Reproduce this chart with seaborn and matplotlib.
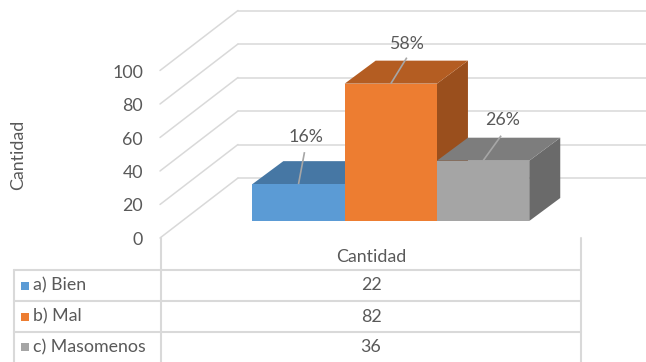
import matplotlib
matplotlib.use("Agg")
import matplotlib.pyplot as plt
import matplotlib.transforms as mtransforms
from matplotlib.patches import Polygon, Rectangle
import seaborn as sns
import pandas as pd

# ---- data ----
categories = ["a) Bien", "b) Mal", "c) Masomenos"]
values = [22, 82, 36]
pct_labels = ["16%", "58%", "26%"]
series_name = "Cantidad"
y_ticks = [0, 20, 40, 60, 80, 100]

front_colors = ["#5B9BD5", "#ED7D31", "#A5A5A5"]
top_colors = ["#4677A4", "#B45D22", "#7D7D7D"]
side_colors = ["#3E6A93", "#9A4F1D", "#6A6A6A"]

sns.set_theme(style="white")
plt.rcParams["font.family"] = ["Lato", "DejaVu Sans"]
TXT = "#595959"
GRID = "#D9D9D9"
FS = 12.8

W, H = 646, 362
fig = plt.figure(figsize=(W / 100, H / 100), dpi=100)
fig.patch.set_facecolor("white")
# pixel transform (origin top-left)
pix = mtransforms.Affine2D().scale(1 / W, -1 / H).translate(0, 1) + fig.transFigure

# geometry (pixels)
S = 1.675            # px per unit
BAR_W = 92.3         # px per category
BAR_X0 = 298.5       # px centre of first bar
BASE = 221           # px row of bar baseline
FRONT = (160, 238)   # front-left floor corner
DEPTH = (78, -60)    # floor depth vector
BAR_D = (31, -23)    # bar depth vector

ax = fig.add_axes([0, 0, 1, 1])
df = pd.DataFrame({"cat": categories, "val": values})
sns.barplot(data=df, x="cat", y="val", hue="cat", palette=front_colors,
            width=1.0, ax=ax, legend=False, saturation=1, edgecolor="none",
            zorder=5)
ax.set_xlim(-BAR_X0 / BAR_W, (W - BAR_X0) / BAR_W)
ax.set_ylim((BASE - H) / S, BASE / S)
ax.axis("off")

# gridlines: left wall diagonals + back wall horizontals
for v in y_ticks:
    fy = FRONT[1] - S * v
    bx, by = FRONT[0] + DEPTH[0], fy + DEPTH[1]
    ax.add_line(plt.Line2D([FRONT[0], bx], [fy, by], color=GRID, lw=1.1,
                           transform=pix, zorder=1))
    ax.add_line(plt.Line2D([bx, W], [by, by], color=GRID, lw=1.1,
                           transform=pix, zorder=1))
    fig.text(143 / W, 1 - (fy + 2) / H, str(v), ha="right", va="center",
             fontsize=FS, color=TXT)

# 3D faces for bars
ddx = BAR_D[0] / BAR_W
ddy = -BAR_D[1] / S
for i, p in enumerate(ax.patches):
    x0 = p.get_x()
    x1 = x0 + p.get_width()
    h = p.get_height()
    z = 5 + i * 3
    side = Polygon([(x1, 0), (x1 + ddx, ddy), (x1 + ddx, h + ddy), (x1, h)],
                   closed=True, facecolor=side_colors[i], edgecolor="none",
                   zorder=z - 1)
    top = Polygon([(x0, h), (x1, h), (x1 + ddx, h + ddy), (x0 + ddx, h + ddy)],
                  closed=True, facecolor=top_colors[i], edgecolor="none",
                  zorder=z - 1)
    ax.add_patch(side)
    ax.add_patch(top)
    p.set_zorder(z)

# data labels with leader lines (offsets in px)
lead_dx = [6, 16, 18]
lead_dy = [32, 26, 25]
text_dx = [7, 16, 19]
text_dy = [47, 40, 41]
for i, p in enumerate(ax.patches[:3]):
    cx = p.get_x() + p.get_width() / 2
    h = p.get_height()
    z = 20 + i
    ax.plot([cx, cx + lead_dx[i] / BAR_W], [h, h + lead_dy[i] / S],
            color="#A6A6A6", lw=1.2, zorder=z, solid_capstyle="butt")
    ax.text(cx + text_dx[i] / BAR_W, h + text_dy[i] / S, pct_labels[i],
            ha="center", va="center", fontsize=FS, color=TXT, zorder=z)

# axis title
fig.text(18 / W, 1 - 155 / H, series_name, rotation=90, ha="center",
         va="center", fontsize=FS, color=TXT)

# data table
L, C, R = 14, 161, 581
rows = [238, 270, 301, 332, 362]
ax.add_line(plt.Line2D([C, C], [rows[0], H], color=GRID, lw=1.5, transform=pix))
ax.add_line(plt.Line2D([R, R], [rows[0], H], color=GRID, lw=1.5, transform=pix))
ax.add_line(plt.Line2D([L, L], [rows[1], H], color=GRID, lw=1.5, transform=pix))
for r in rows[1:4]:
    ax.add_line(plt.Line2D([L, R], [r, r], color=GRID, lw=1.5, transform=pix))
cx_tab = (C + R) / 2
fig.text(cx_tab / W, 1 - 257 / H, series_name, ha="center", va="center",
         fontsize=FS, color=TXT)
for i, (cat, v) in enumerate(zip(categories, values)):
    yc = (rows[i + 1] + rows[i + 2]) / 2
    fig.text(cx_tab / W, 1 - yc / H, str(v), ha="center", va="center",
             fontsize=FS, color=TXT)
    fig.patches.append(Rectangle((21, yc - 4), 8, 8, transform=pix,
                                 facecolor=front_colors[i], edgecolor="none",
                                 figure=fig))
    fig.text(33 / W, 1 - yc / H, cat, ha="left", va="center",
             fontsize=FS, color=TXT)

fig.savefig("out.png", dpi=100, facecolor="white")
